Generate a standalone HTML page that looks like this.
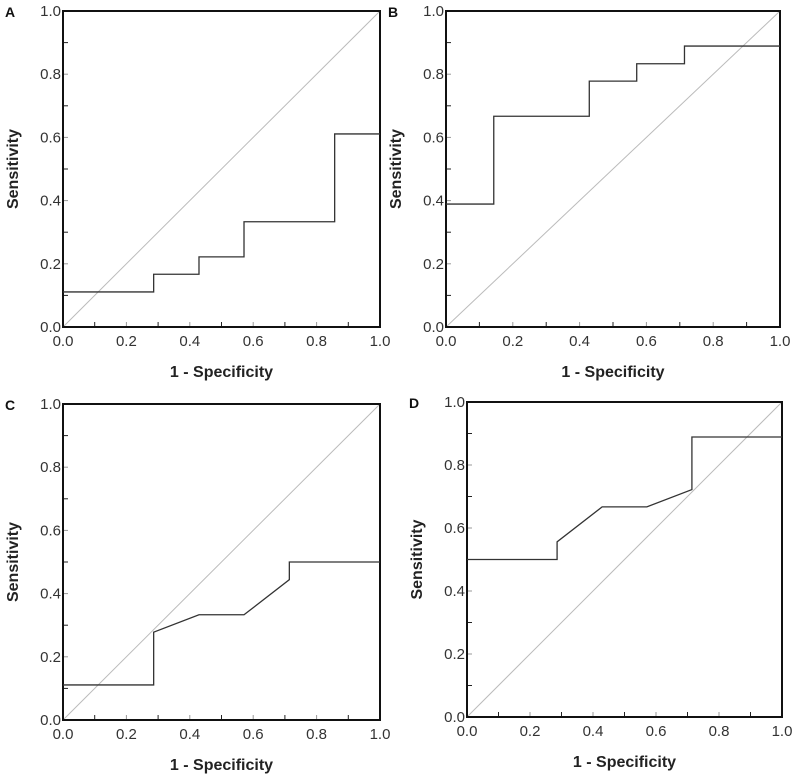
<!DOCTYPE html>
<html><head><meta charset="utf-8"><style>
body{margin:0;background:#fff;width:800px;height:779px;overflow:hidden}
svg text{font-family:"Liberation Sans",sans-serif}
</style></head><body>
<svg id="fig" width="800" height="779" xmlns="http://www.w3.org/2000/svg"></svg>
<script>
const panelLabels = ["A","B","C","D"];
const ticks = [0,0.2,0.4,0.6,0.8,1.0];
const tickText = ["0.0","0.2","0.4","0.6","0.8","1.0"];
const rocAx = [0,0.286,0.286,0.429,0.429,0.571,0.571,0.857,0.857,1];
const rocAy = [0.111,0.111,0.167,0.167,0.222,0.222,0.333,0.333,0.611,0.611];
const rocBx = [0,0.143,0.143,0.429,0.429,0.571,0.571,0.714,0.714,1];
const rocBy = [0.389,0.389,0.667,0.667,0.778,0.778,0.833,0.833,0.889,0.889];
const rocCx = [0,0.286,0.286,0.429,0.571,0.714,0.714,1];
const rocCy = [0.111,0.111,0.278,0.333,0.333,0.444,0.5,0.5];
const rocDx = [0,0.286,0.286,0.429,0.571,0.714,0.714,1];
const rocDy = [0.5,0.5,0.556,0.667,0.667,0.722,0.889,0.889];
const series = [[rocAx,rocAy],[rocBx,rocBy],[rocCx,rocCy],[rocDx,rocDy]];
const boxes = [[63,11,380,327],[446,11,780,327],[63,404,380,720],[467,402,782,717]];
const NS="http://www.w3.org/2000/svg";
const svg=document.getElementById('fig');
function mk(t,a,p){const e=document.createElementNS(NS,t);for(const k in a)e.setAttribute(k,a[k]);(p||svg).appendChild(e);return e;}
boxes.forEach((b,i)=>{
  const [L,T,R,B]=b;
  const g=mk('g',{});
  
  
  const sx=v=>L+v*(R-L), sy=v=>B-v*(B-T);
  const d=mk('line',{x1:sx(0),y1:sy(0),x2:sx(1),y2:sy(1),stroke:'#bbb','stroke-width':1},g);
  
  
  for(let k=1;k<10;k++){
    const v=k/10;
    mk('line',{x1:sx(v),y1:B,x2:sx(v),y2:B-5,stroke:k%2?'#222':'#999','stroke-width':1},g);
    mk('line',{x1:L,y1:sy(v),x2:L+5,y2:sy(v),stroke:k%2?'#222':'#999','stroke-width':1},g);
  }
  const f=mk('rect',{x:L,y:T,width:R-L,height:B-T,fill:'none',stroke:'#111','stroke-width':2},g);
  
  
  ticks.forEach((t,j)=>{
    const xl=mk('text',{x:sx(t),y:B+19,'text-anchor':'middle','font-size':15,fill:'#333'},g);
    xl.textContent=tickText[j];
    
    
    const yl=mk('text',{x:L-2,y:sy(t)+5,'text-anchor':'end','font-size':15,fill:'#333'},g);
    yl.textContent=tickText[j];
    
    
  });
  const [xs,ys]=series[i];
  const pts=xs.map((x,j)=>sx(x)+','+sy(ys[j])).join(' ');
  const c=mk('polyline',{points:pts,fill:'none',stroke:'#333','stroke-width':1.3},g);
  
  
  const xt=mk('text',{x:(L+R)/2,y:B+50,'text-anchor':'middle','font-size':16,'font-weight':'bold',fill:'#222'},g);
  xt.textContent='1 - Specificity';
  
  
  const yx=L-45, yy=(T+B)/2;
  const yt=mk('text',{x:yx,y:yy,'text-anchor':'middle','font-size':16,'font-weight':'bold',fill:'#222',transform:`rotate(-90 ${yx} ${yy})`},g);
  yt.textContent='Sensitivity';
  
  
  const pl=mk('text',{x:L-58,y:T+6,'font-size':14,'font-weight':'bold',fill:'#111'},g);
  pl.textContent=panelLabels[i];
  
  
});
</script>
</body></html>
